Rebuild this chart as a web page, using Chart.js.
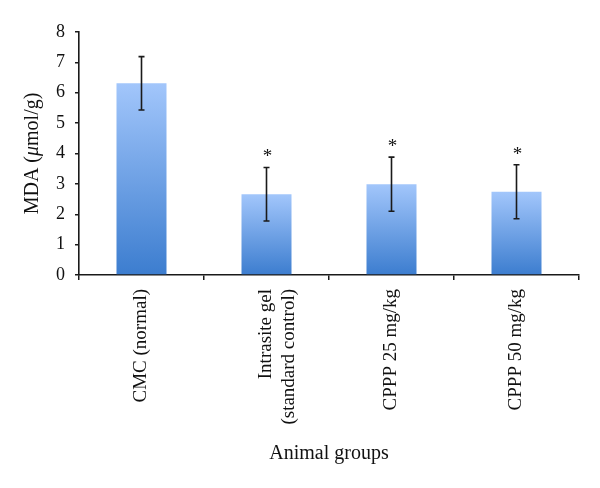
<!DOCTYPE html>
<html>
<head>
<meta charset="utf-8">
<script src="https://cdn.jsdelivr.net/npm/chart.js@4/dist/chart.umd.min.js"></script>
<style>
  html,body{margin:0;padding:0;background:#fff;}
  #wrap{width:600px;height:488px;}
</style>
</head>
<body>
<div id="wrap"><canvas id="mdaChart"></canvas></div>
<script>
const groups=["CMC (normal)",["Intrasite gel","(standard control)"],"CPPP 25 mg/kg","CPPP 50 mg/kg"];
const mda=[6.31,2.66,2.99,2.74];
const sd=[0.88,0.88,0.89,0.89];
const stars=["","*","*","*"];

const FONT="'Liberation Serif', 'DejaVu Serif', serif";

// error bars + significance stars
const extras={
  id:"extras",
  afterDatasetsDraw(chart){
    const {ctx,scales:{x,y}}=chart;
    ctx.save();
    ctx.strokeStyle="#1a1a1a";
    ctx.lineWidth=1.6;
    mda.forEach((v,i)=>{
      const cx=x.getPixelForValue(i);
      const top=y.getPixelForValue(v+sd[i]),bot=y.getPixelForValue(v-sd[i]);
      ctx.beginPath();
      ctx.moveTo(cx,top);ctx.lineTo(cx,bot);
      ctx.moveTo(cx-3,top);ctx.lineTo(cx+3,top);
      ctx.moveTo(cx-3,bot);ctx.lineTo(cx+3,bot);
      ctx.stroke();
      if(stars[i]){
        ctx.fillStyle="#111";
        ctx.font="19px "+FONT;
        ctx.textAlign="center";
        ctx.textBaseline="middle";
        ctx.fillText(stars[i],cx+1,top-10);
      }
    });
    ctx.restore();
  }
};

// y title with italic mu
const yTitle={
  id:"yTitle",
  afterDraw(chart){
    const {ctx,chartArea}=chart;
    const parts=[["MDA (",""],["μ","italic "],["mol/g)",""]];
    ctx.save();
    ctx.fillStyle="#111";
    ctx.textBaseline="middle";
    ctx.textAlign="left";
    let w=0;
    parts.forEach(p=>{ctx.font=p[1]+"20px "+FONT;w+=ctx.measureText(p[0]).width;});
    ctx.translate(33,(chartArea.top+chartArea.bottom)/2);
    ctx.rotate(-Math.PI/2);
    let px=-w/2;
    parts.forEach(p=>{ctx.font=p[1]+"20px "+FONT;ctx.fillText(p[0],px,0);px+=ctx.measureText(p[0]).width;});
    ctx.restore();
  }
};

function barFill(c){
  const chart=c.chart;
  const area=chart.chartArea;
  if(!area)return "#6fa0e6";
  const y=chart.scales.y;
  const v=mda[c.dataIndex];
  const g=chart.ctx.createLinearGradient(0,y.getPixelForValue(v),0,y.getPixelForValue(0));
  g.addColorStop(0,"#a2c6fb");
  g.addColorStop(1,"#3c7dcf");
  return g;
}

new Chart(document.getElementById("mdaChart"),{
  type:"bar",
  data:{
    labels:groups,
    datasets:[{
      data:mda,
      backgroundColor:barFill,
      borderWidth:0,
      categoryPercentage:1,
      barPercentage:0.4
    }]
  },
  options:{
    responsive:true,
    maintainAspectRatio:false,
    animation:false,
    layout:{padding:{top:32,right:21,bottom:22,left:0}},
    plugins:{legend:{display:false},tooltip:{enabled:false}},
    scales:{
      x:{
        afterFit(s){s.height=191;},
        grid:{drawOnChartArea:false,drawTicks:true,tickLength:5,color:"#1a1a1a",lineWidth:1.5},
        border:{color:"#1a1a1a",width:1.6},
        ticks:{color:"#111",font:{family:FONT,size:19},minRotation:90,maxRotation:90,padding:9,autoSkip:false},
        title:{display:true,text:"Animal groups",color:"#111",font:{family:FONT,size:20},padding:{top:4,bottom:0}}
      },
      y:{
        min:0,max:8,
        afterFit(s){s.width=79;},
        grid:{drawOnChartArea:false,drawTicks:true,tickLength:4,color:"#1a1a1a",lineWidth:1.5},
        border:{color:"#1a1a1a",width:1.6},
        ticks:{stepSize:1,color:"#111",font:{family:FONT,size:18},padding:10},
        title:{display:false}
      }
    }
  },
  plugins:[extras,yTitle]
});
</script>
</body>
</html>
